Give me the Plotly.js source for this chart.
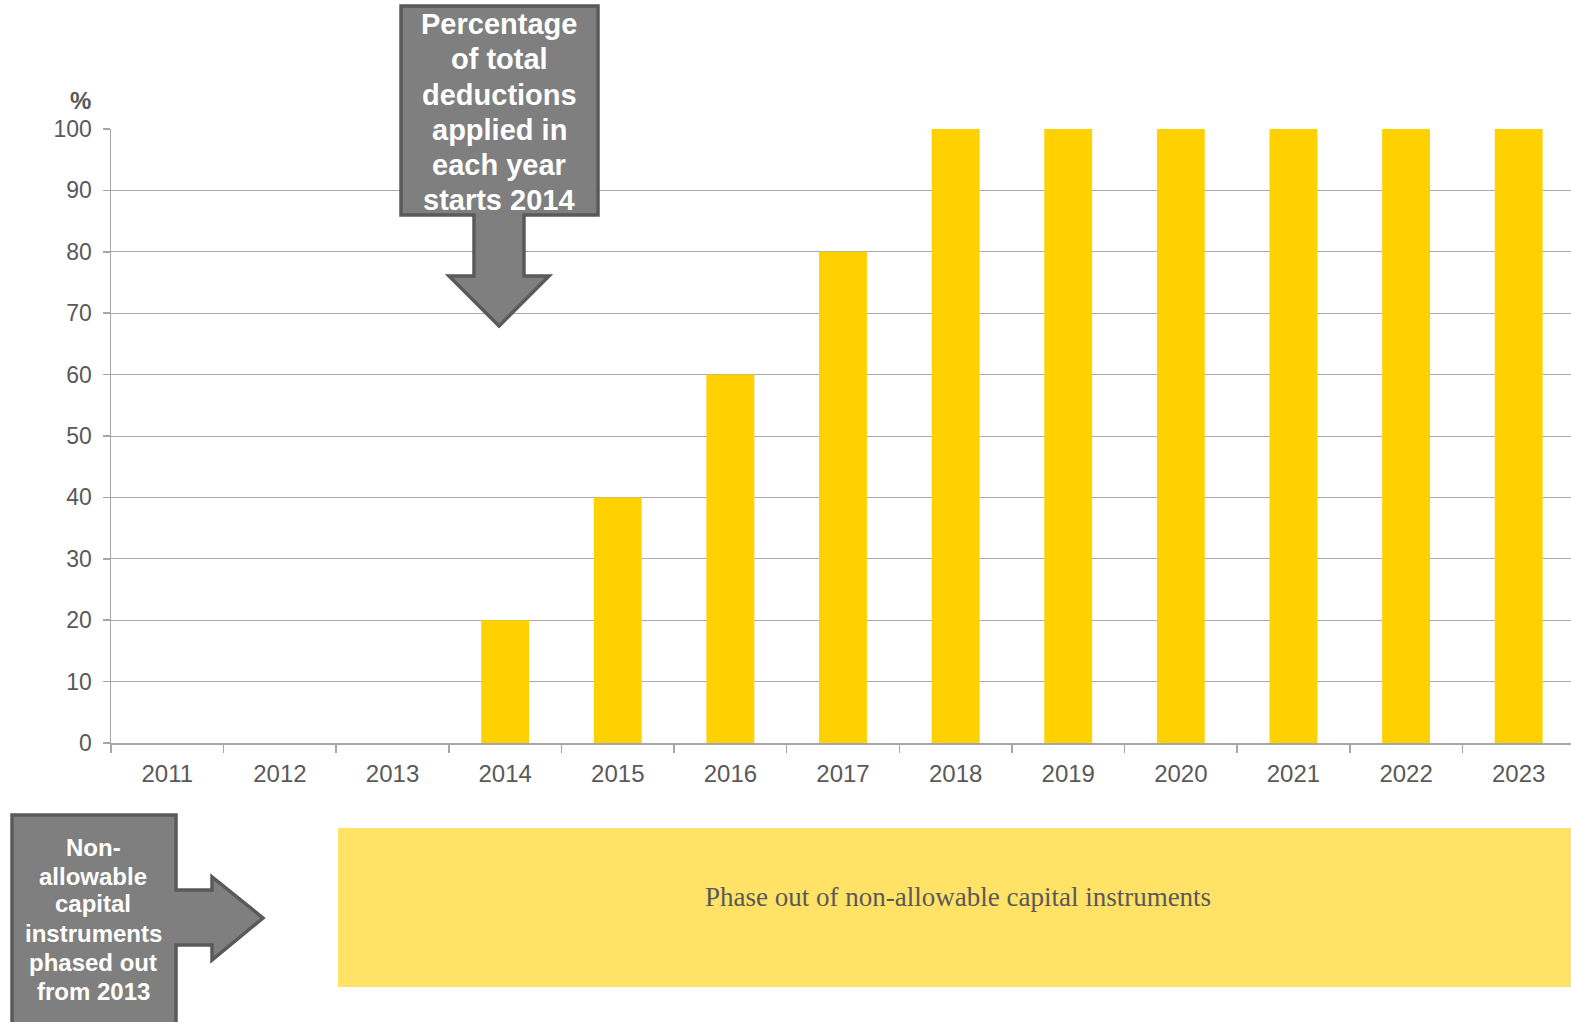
<!DOCTYPE html>
<html>
<head>
<meta charset="utf-8">
<script src="https://cdn.plot.ly/plotly-3.0.1.min.js"></script>
<style>html,body{margin:0;padding:0;background:#fff;overflow:hidden;}#chart{width:1575px;height:1022px;}</style>
</head>
<body>
<div id="chart"></div>
<script>
const years = ['2011','2012','2013','2014','2015','2016','2017','2018','2019','2020','2021','2022','2023'];
const deductionPct = [0,0,0,20,40,60,80,100,100,100,100,100,100];
const yTicks = [0,10,20,30,40,50,60,70,80,90,100];
const topBoxLines = ['Percentage','of total','deductions','applied in','each year','starts 2014'];
const bottomBoxLines = ['Non-','allowable','capital','instruments','phased out','from 2013'];
const bandText = 'Phase out of non-allowable capital instruments';

const W = 1575, H = 1022;
const L = 111, R = 0, T = 129, B = 279;
const PW = W - L - R, PH = H - T - B;
// pixel -> paper helpers (layout only)
const px = x => (x - L) / PW;
const py = y => (H - B - y) / PH;
function path(points) {
  return 'M' + points.map(p => px(p[0]).toFixed(5) + ',' + py(p[1]).toFixed(5)).join(' L') + ' Z';
}

const downArrow = path([[401,6],[598,6],[598,215],[524,215],[524,276],[549,276],[499,326],[449,276],[474,276],[474,215],[401,215]]);
const rightArrow = path([[12,815],[176,815],[176,890],[212,890],[212,877],[263,918],[212,960],[212,945],[176,945],[176,1040],[12,1040]]);

const gray = '#595959';

const data = [{
  type: 'bar',
  x: years,
  y: deductionPct,
  marker: {color: '#FFD100'},
  hoverinfo: 'x+y'
}];

const annotations = [
  {xref: 'paper', yref: 'paper', x: px(80), y: py(101), text: '<b>%</b>', showarrow: false,
   xanchor: 'center', yanchor: 'middle', font: {size: 24, color: gray}},
  {xref: 'paper', yref: 'paper', x: px(958), y: py(897), text: bandText,
   showarrow: false, xanchor: 'center', yanchor: 'middle',
   font: {size: 27, color: gray, family: 'Liberation Serif, DejaVu Serif, serif'}}
];
const topY = [24, 59, 95, 130, 165, 200];
topBoxLines.forEach((t, i) => annotations.push({
  xref: 'paper', yref: 'paper', x: px(499.5), y: py(topY[i]), text: '<b>' + t + '</b>',
  showarrow: false, xanchor: 'center', yanchor: 'middle', font: {size: 29, color: '#ffffff'}
}));
const botY = [847, 876, 904, 933, 962, 991];
bottomBoxLines.forEach((t, i) => annotations.push({
  xref: 'paper', yref: 'paper', x: px(93), y: py(botY[i]), text: '<b>' + t + '</b>',
  showarrow: false, xanchor: 'center', yanchor: 'middle', font: {size: 24, color: '#ffffff'}
}));

const layout = {
  width: W, height: H,
  margin: {l: L, r: R, t: T, b: B, pad: 0},
  paper_bgcolor: '#ffffff',
  plot_bgcolor: '#ffffff',
  showlegend: false,
  bargap: 0.575,
  font: {family: 'Liberation Sans, Arial, sans-serif', color: gray},
  xaxis: {
    type: 'category',
    showgrid: false,
    showline: true, linecolor: '#a6a6a6', linewidth: 1.5,
    ticks: 'outside', ticklen: 8, tickcolor: '#a6a6a6', tickwidth: 1.5,
    tickson: 'boundaries',
    ticklabelstandoff: 9,
    tickfont: {size: 24, color: gray},
    fixedrange: true
  },
  yaxis: {
    range: [0, 100],
    tickvals: yTicks,
    showgrid: true, gridcolor: '#ababab', gridwidth: 1,
    showline: true, linecolor: '#a6a6a6', linewidth: 1.5,
    ticks: 'outside', ticklen: 7, tickcolor: '#a6a6a6', tickwidth: 1.5,
    ticklabelstandoff: 6,
    tickfont: {size: 23, color: gray},
    zeroline: false,
    fixedrange: true
  },
  shapes: [
    {type: 'rect', xref: 'paper', yref: 'paper', x0: px(338), x1: px(1590), y0: py(987), y1: py(828),
     fillcolor: '#FFE266', line: {width: 0}, layer: 'below'},
    {type: 'path', xref: 'paper', yref: 'paper', path: downArrow,
     fillcolor: '#7f7f7f', line: {color: '#5a5a5a', width: 3.5}, layer: 'above'},
    {type: 'path', xref: 'paper', yref: 'paper', path: rightArrow,
     fillcolor: '#7f7f7f', line: {color: '#5a5a5a', width: 3.5}, layer: 'above'}
  ],
  annotations: annotations
};

Plotly.newPlot('chart', data, layout, {displayModeBar: false, staticPlot: true});
</script>
</body>
</html>
